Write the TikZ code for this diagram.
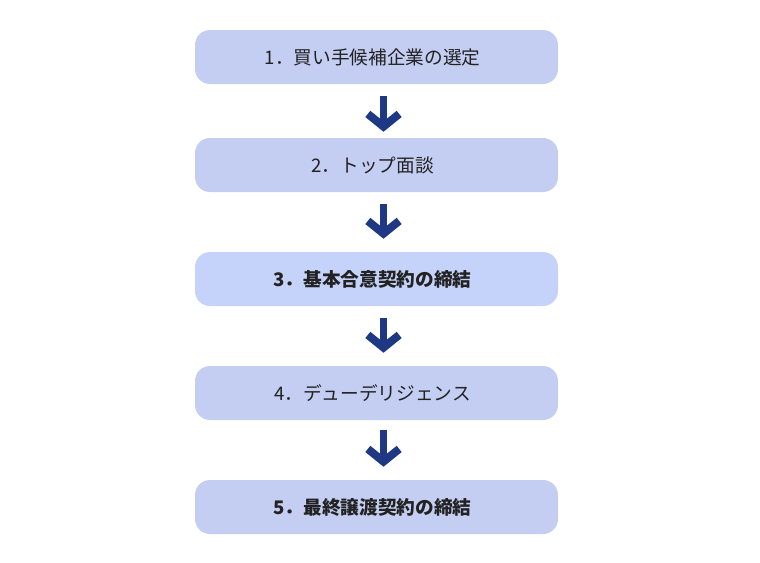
\documentclass[tikz,border=0pt]{standalone}
\usepackage{fontspec}
\usepackage{xcolor}
\usepackage{tikz}
\usetikzlibrary{arrows.meta,calc}
\newfontfamily\jpfont{Noto Sans CJK JP}
\definecolor{stepblue}{HTML}{C4CEF2}
\definecolor{stepbluehi}{HTML}{C5D2FA}
\definecolor{arrownavy}{HTML}{1E3884}
\definecolor{steptext}{HTML}{222222}
\tikzset{
  stepbox/.style={rounded corners=11.25pt, fill=stepblue, minimum width=272.25pt, minimum height=40.5pt,
    inner sep=0pt, font=\jpfont\fontsize{14pt}{16pt}\selectfont, text=steptext,
    execute at end node=\hspace*{6pt}},
  stepbold/.style={stepbox, font=\jpfont\bfseries\fontsize{14pt}{16pt}\selectfont},
  flowarrow/.style={draw=arrownavy, line width=5.25pt, -{Straight Barb[length=9.5pt, width=23.5pt, line width=6pt]}}
}

\begin{document}
\begin{tikzpicture}[x=0.75pt,y=-0.75pt]
				\useasboundingbox (0,0) rectangle (760,562);
				\node [stepbox] (s1) at (376.5,57) {1．買い手候補企業の選定};
				\node [stepbox] (s2) at (376.5,165) {2．トップ面談};
				\node [stepbold, fill=stepbluehi] (s3) at (376.5,279) {3．基本合意契約の締結};
				\node [stepbox] (s4) at (376.5,393) {4．デューデリジェンス};
				\node [stepbold] (s5) at (376.5,507) {5．最終譲渡契約の締結};
				\draw [flowarrow] ($(s1.south)+(7,12)$) -- ($(s2.north)+(7,-6)$);
				\draw [flowarrow] ($(s2.south)+(7,12)$) -- ($(s3.north)+(7,-13)$);
				\draw [flowarrow] ($(s3.south)+(7,12)$) -- ($(s4.north)+(7,-13)$);
				\draw [flowarrow] ($(s4.south)+(7,10)$) -- ($(s5.north)+(7,-13)$);
\end{tikzpicture}
\end{document}
